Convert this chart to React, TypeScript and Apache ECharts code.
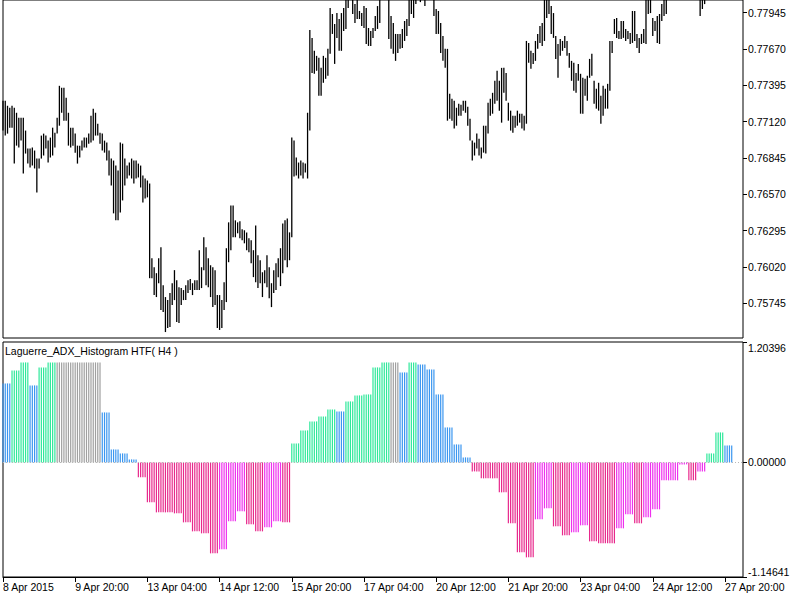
import React, { useEffect, useRef } from "react";
import * as echarts from "echarts";

// ---- x-axis tick labels (one every 32 H1 bars) ----
const tickLabels = [
  "8 Apr 2015", "9 Apr 20:00", "13 Apr 04:00", "14 Apr 12:00", "15 Apr 20:00",
  "17 Apr 04:00", "20 Apr 12:00", "21 Apr 20:00", "23 Apr 04:00", "24 Apr 12:00", "27 Apr 20:00",
];
const BARS_PER_LABEL = 32;
const SLOT_COUNT = 329;

// ---- price axis ----
const priceTicks = [0.75745, 0.7602, 0.76295, 0.7657, 0.76845, 0.7712, 0.77395, 0.7767, 0.77945];
const priceMin = 0.75481;
const priceMax = 0.78041;

// ---- indicator axis ----
const histTicks = [-1.14641, 0, 1.20396];
const histMin = -1.14641;
const histMax = 1.20396;

// ---- H1 price bars (high / low) ----
const highs = [
  0.77278, 0.77278, 0.7724, 0.77225, 0.7724, 0.77225, 0.77187, 0.7715, 0.7715, 0.7715,
  0.77052, 0.76916, 0.76916, 0.76923, 0.76901, 0.7684, 0.7684, 0.77014, 0.77029, 0.77014,
  0.76976, 0.76999, 0.77074, 0.77036, 0.7715, 0.77391, 0.77376, 0.77376, 0.77301, 0.77187,
  0.77074, 0.77074, 0.77029, 0.76938, 0.76938, 0.76976, 0.76999, 0.76999, 0.77029, 0.77165,
  0.77218, 0.77187, 0.77104, 0.77036, 0.77029, 0.76976, 0.76961, 0.76901, 0.7684, 0.76825,
  0.76787, 0.7675, 0.76961, 0.76953, 0.7684, 0.76787, 0.7681, 0.7684, 0.76825, 0.76825,
  0.76802, 0.76787, 0.76712, 0.76689, 0.76674, 0.76651, 0.76085, 0.76017, 0.75972, 0.76085,
  0.76168, 0.75881, 0.75791, 0.75768, 0.75821, 0.75896, 0.75995, 0.75919, 0.75866, 0.75859,
  0.75844, 0.75881, 0.75919, 0.75927, 0.75896, 0.75919, 0.75919, 0.76146, 0.76017, 0.76244,
  0.76168, 0.76085, 0.76032, 0.76017, 0.75995, 0.75806, 0.75806, 0.75768, 0.75904, 0.76161,
  0.76357, 0.76485, 0.76485, 0.76372, 0.76357, 0.76365, 0.76304, 0.76297, 0.76281, 0.76236,
  0.76221, 0.76146, 0.76334, 0.76108, 0.7607, 0.75979, 0.75995, 0.76108, 0.76017, 0.75896,
  0.75995, 0.76047, 0.76085, 0.76161, 0.76349, 0.76372, 0.76387, 0.76281, 0.76999, 0.76976,
  0.76848, 0.7681, 0.76825, 0.7681, 0.76802, 0.77187, 0.77814, 0.77754, 0.77656, 0.77618,
  0.77603, 0.77527, 0.77618, 0.77603, 0.77671, 0.7798, 0.77935, 0.77859, 0.77942, 0.77897,
  0.77942, 0.7798, 0.78056, 0.78109, 0.78146, 0.78071, 0.7801, 0.78056, 0.77958, 0.77942,
  0.77995, 0.7798, 0.77829, 0.77807, 0.77829, 0.7792, 0.77995, 0.78048, 0.78146, 0.78184,
  0.78146, 0.78056, 0.7792, 0.77867, 0.77784, 0.77784, 0.77784, 0.77822, 0.77882, 0.77897,
  0.78056, 0.78048, 0.78071, 0.78109, 0.78146, 0.78109, 0.78146, 0.78093, 0.78184, 0.78184,
  0.78146, 0.78071, 0.77973, 0.77958, 0.77867, 0.77769, 0.77671, 0.77671, 0.77331, 0.77293,
  0.77278, 0.77225, 0.77255, 0.77248, 0.77278, 0.77278, 0.77233, 0.77142, 0.76976, 0.76961,
  0.77029, 0.76991, 0.76923, 0.77089, 0.77089, 0.77263, 0.77293, 0.77338, 0.77429, 0.77505,
  0.77429, 0.77527, 0.77527, 0.77489, 0.77263, 0.77203, 0.77165, 0.77165, 0.77203, 0.7718,
  0.7718, 0.77165, 0.77731, 0.77716, 0.77656, 0.7764, 0.77731, 0.77784, 0.77844, 0.77867,
  0.78056, 0.78071, 0.78056, 0.77995, 0.77942, 0.77769, 0.77708, 0.77746, 0.77731, 0.77769,
  0.77731, 0.7764, 0.7758, 0.77565, 0.77489, 0.77557, 0.77482, 0.77452, 0.77444, 0.77467,
  0.77595, 0.77633, 0.77429, 0.77369, 0.77414, 0.77316, 0.77391, 0.77369, 0.77406, 0.77731,
  0.77731, 0.77897, 0.77905, 0.77807, 0.77882, 0.77882, 0.77822, 0.77807, 0.77791, 0.77958,
  0.77958, 0.77784, 0.77754, 0.77784, 0.77822, 0.78056, 0.78071, 0.78071, 0.77905, 0.77882,
  0.7792, 0.77935, 0.7801, 0.78056, 0.78071, 0.78184, 0.78222, 0.7826, 0.78297, 0.7832,
  0.78305, 0.78335, 0.7832, 0.78275, 0.78244, 0.78222, 0.78199, 0.78169, 0.78146, 0.78109,
  0.78109, 0.78109, 0.78184, 0.78244, 0.78297, 0.7835, 0.78411, 0.78448, 0.78486, 0.78471,
  0.78501, 0.78524, 0.78486, 0.78531,
];
const lows = [
  0.77052, 0.77014, 0.77029, 0.77074, 0.77074, 0.76802, 0.76938, 0.76923, 0.76976, 0.76727,
  0.76878, 0.76802, 0.76772, 0.76787, 0.76765, 0.76583, 0.76765, 0.7684, 0.76863, 0.76916,
  0.7681, 0.76848, 0.76863, 0.76923, 0.77029, 0.77089, 0.77187, 0.77127, 0.77127, 0.76938,
  0.76923, 0.76938, 0.76885, 0.76802, 0.76848, 0.76901, 0.76923, 0.76923, 0.76953, 0.76961,
  0.76976, 0.77014, 0.77014, 0.76953, 0.76901, 0.76885, 0.76825, 0.76712, 0.76636, 0.76425,
  0.76372, 0.76372, 0.76432, 0.76523, 0.76636, 0.76689, 0.76712, 0.76689, 0.76651, 0.76689,
  0.76697, 0.76621, 0.76508, 0.76538, 0.76546, 0.75934, 0.75934, 0.75806, 0.75791, 0.75896,
  0.75693, 0.75677, 0.75526, 0.75557, 0.75564, 0.7573, 0.75768, 0.75602, 0.75594, 0.7573,
  0.75768, 0.75768, 0.75821, 0.75844, 0.75806, 0.75844, 0.75844, 0.75844, 0.75859, 0.75995,
  0.75881, 0.75866, 0.75791, 0.75715, 0.7573, 0.75557, 0.75542, 0.75557, 0.75693, 0.75753,
  0.76055, 0.76146, 0.76244, 0.76244, 0.76274, 0.76236, 0.76221, 0.76198, 0.76146, 0.76131,
  0.76047, 0.75942, 0.75904, 0.75859, 0.75896, 0.75791, 0.75896, 0.75866, 0.75783, 0.75715,
  0.75821, 0.75844, 0.75942, 0.75874, 0.75972, 0.7607, 0.76017, 0.7607, 0.76244, 0.76704,
  0.76712, 0.76689, 0.76712, 0.76689, 0.76734, 0.76689, 0.77052, 0.77489, 0.77482, 0.77505,
  0.77316, 0.77316, 0.77414, 0.77444, 0.77467, 0.77633, 0.77784, 0.77557, 0.77754, 0.77656,
  0.77656, 0.77807, 0.77822, 0.7798, 0.78048, 0.77935, 0.77867, 0.77897, 0.77897, 0.77844,
  0.77829, 0.77708, 0.77693, 0.77693, 0.77754, 0.77807, 0.77822, 0.77867, 0.78041, 0.78071,
  0.78048, 0.77746, 0.77671, 0.77633, 0.7758, 0.7764, 0.77671, 0.77678, 0.77731, 0.77769,
  0.77844, 0.77935, 0.77905, 0.7801, 0.78056, 0.78025, 0.78071, 0.77995, 0.78071, 0.78071,
  0.78056, 0.7792, 0.77784, 0.77784, 0.7764, 0.7758, 0.77527, 0.77127, 0.77142, 0.77127,
  0.77067, 0.77089, 0.77165, 0.77165, 0.77203, 0.77187, 0.77089, 0.76976, 0.76825, 0.76863,
  0.76916, 0.76863, 0.7684, 0.76885, 0.76878, 0.77029, 0.77165, 0.7718, 0.77255, 0.77278,
  0.77203, 0.77112, 0.77338, 0.77278, 0.77127, 0.77052, 0.77036, 0.77074, 0.77089, 0.77112,
  0.77067, 0.77052, 0.77104, 0.77565, 0.7752, 0.77557, 0.7758, 0.77671, 0.77716, 0.77693,
  0.77731, 0.77905, 0.77935, 0.77784, 0.77754, 0.77595, 0.77452, 0.77618, 0.77656, 0.77678,
  0.77618, 0.77527, 0.77429, 0.77354, 0.77338, 0.77429, 0.7718, 0.7718, 0.77316, 0.77278,
  0.77452, 0.77467, 0.77255, 0.77218, 0.77203, 0.77104, 0.77165, 0.77218, 0.77218, 0.77354,
  0.7764, 0.77784, 0.77754, 0.77746, 0.77746, 0.77754, 0.77731, 0.77746, 0.77708, 0.77716,
  0.77731, 0.77678, 0.7764, 0.77708, 0.77716, 0.77708, 0.77935, 0.77942, 0.77769, 0.77807,
  0.77716, 0.77708, 0.77882, 0.7792, 0.77935, 0.78078, 0.78109, 0.78124, 0.78169, 0.78199,
  0.78184, 0.78222, 0.78199, 0.78169, 0.78139, 0.78109, 0.78093, 0.78071, 0.78056, 0.7792,
  0.77973, 0.7801, 0.78063, 0.78109, 0.78146, 0.78199, 0.7826, 0.78297, 0.78335, 0.7832,
  0.7835, 0.78373, 0.78335, 0.7838,
];

// ---- Laguerre ADX histogram, one value per H4 bar ----
const adxH4 = [
  0.79, 0.92, 1.0, 0.77, 0.95, 1.0, 1.0, 1.0, 1.0, 1.0, 1.0,
  0.5, 0.13, 0.09, 0.03,
  -0.15, -0.4, -0.5, -0.5, -0.51, -0.6, -0.69, -0.71, -0.91, -0.87, -0.59, -0.49, -0.62, -0.69, -0.65, -0.59, -0.6,
  0.19, 0.32, 0.41, 0.46, 0.53, 0.51, 0.61, 0.67, 0.68, 0.95, 1.0, 1.0,
  0.9, 1.0, 0.98, 0.93, 0.68, 0.35, 0.18, 0.05,
  -0.09, -0.16, -0.16, -0.3, -0.61, -0.9, -0.95, -0.57, -0.46, -0.64, -0.73, -0.7, -0.63, -0.79, -0.81, -0.81,
  -0.66, -0.52, -0.61, -0.55, -0.47, -0.18, -0.18, -0.02, -0.18, -0.09,
  0.09, 0.3, 0.17,
];
// state per H4 bar: g = rising, b = falling, x = flat, p = falling deeper, m = recovering
const adxState = (
  "bggbggxxxxx" + "bbbb" + "ppppppppp" + "mmm" + "pp" + "mm" + "p" +
  "ggggg" + "b" + "ggggg" + "x" + "b" + "g" + "bbbbbb" +
  "ppppppp" + "mm" + "pp" + "mm" + "ppp" + "mm" + "p" + "mmmmm" + "p" + "m" + "gg" + "b"
).split("");
const H1_PER_H4 = 4;

const FONT = "'Liberation Sans', Arial, sans-serif";
const stateColor: Record<string, string> = {
  g: "#2ee89a",
  b: "#3a96f0",
  x: "#a0a0a0",
  p: "#e8288c",
  m: "#ee30ee",
};

export default function App() {
  const ref = useRef<HTMLDivElement>(null);

  useEffect(() => {
    if (!ref.current) return;
    const chart = echarts.init(ref.current, null, { renderer: "svg" });

    const categories = Array.from({ length: SLOT_COUNT }, (_, i) => String(i));
    const priceData = highs.map((h, i) => [i, lows[i], h]);
    const histData: any[] = [];
    adxH4.forEach((v, k) => {
      for (let j = 0; j < H1_PER_H4; j++) {
        histData.push({ value: v, itemStyle: { color: stateColor[adxState[k]] } });
      }
    });

    const isLabelSlot = (i: number) => i % BARS_PER_LABEL === 0 && i / BARS_PER_LABEL < tickLabels.length;

    const option: any = {
      animation: false,
      backgroundColor: "#ffffff",
      textStyle: { fontFamily: FONT },
      grid: [
        { left: 3, top: -1, width: 740, height: 339, show: true, borderColor: "#000", borderWidth: 1, backgroundColor: "transparent" },
        { left: 3, top: 342, width: 740, height: 235, show: true, borderColor: "#000", borderWidth: 1, backgroundColor: "transparent" },
      ],
      xAxis: [
        {
          type: "category", gridIndex: 0, data: categories, boundaryGap: false,
          axisLine: { show: false }, axisTick: { show: false }, axisLabel: { show: false }, splitLine: { show: false },
        },
        {
          type: "category", gridIndex: 1, data: categories, boundaryGap: false, position: "bottom",
          axisLine: { show: true, onZero: false, lineStyle: { color: "#000", width: 1 } },
          axisTick: { show: true, interval: (i: number) => isLabelSlot(i), length: 5, lineStyle: { color: "#000" } },
          axisLabel: {
            interval: (i: number) => isLabelSlot(i),
            formatter: (_v: string, i: number) => tickLabels[i / BARS_PER_LABEL] ?? "",
            align: "left", margin: 4, color: "#000", fontSize: 10.5, fontFamily: FONT,
          },
          splitLine: { show: false },
        },
      ],
      yAxis: [
        {
          type: "value", gridIndex: 0, position: "right", min: priceMin, max: priceMax, scale: true,
          axisLine: { show: false }, splitLine: { show: false },
          axisTick: { show: true, length: 4, customValues: priceTicks, lineStyle: { color: "#000" } },
          axisLabel: {
            customValues: priceTicks, formatter: (v: number) => v.toFixed(5),
            margin: 5, color: "#000", fontSize: 10.5, fontFamily: FONT,
          },
        },
        {
          type: "value", gridIndex: 1, position: "right", min: histMin, max: histMax,
          axisLine: { show: false }, splitLine: { show: false },
          axisTick: { show: true, length: 4, customValues: histTicks, lineStyle: { color: "#000" } },
          axisLabel: {
            customValues: histTicks,
            formatter: (v: number) => {
              const s = v.toFixed(5);
              if (v >= histMax - 1e-9) return "{t|" + s + "}";
              if (v <= histMin + 1e-9) return "{b|" + s + "}";
              return "{z|" + s + "}";
            },
            margin: 5, color: "#000", fontSize: 10.5, fontFamily: FONT,
            rich: {
              t: { padding: [11, 0, 0, 0], fontSize: 10.5, color: "#000", fontFamily: FONT },
              b: { padding: [0, 0, 11, 0], fontSize: 10.5, color: "#000", fontFamily: FONT },
              z: { fontSize: 10.5, color: "#000", fontFamily: FONT },
            },
          },
        },
      ],
      graphic: [
        {
          type: "text", left: 5, top: 345,
          style: { text: "Laguerre_ADX_Histogram HTF( H4 )", fill: "#000", fontSize: 10.5, fontFamily: FONT },
        },
      ],
      series: [
        {
          type: "custom", xAxisIndex: 0, yAxisIndex: 0, data: priceData,
          encode: { x: 0, y: [1, 2] },
          renderItem: (params: any, api: any) => {
            const i = api.value(0);
            const lo = api.coord([i, api.value(1)]);
            const hi = api.coord([i, api.value(2)]);
            const cs = params.coordSys;
            const y1 = Math.max(cs.y, hi[1]);
            const y2 = Math.min(cs.y + cs.height, lo[1]);
            if (y2 <= y1) return { type: "group", children: [] };
            return {
              type: "line",
              shape: { x1: lo[0], y1, x2: lo[0], y2 },
              style: { stroke: "#000", lineWidth: 1.3 },
            };
          },
        },
        {
          type: "bar", xAxisIndex: 1, yAxisIndex: 1, data: histData, barWidth: 1.2,
          markLine: {
            silent: true, symbol: "none", label: { show: false },
            lineStyle: { color: "#b8b8b8", type: [1, 2], width: 1 },
            data: [{ yAxis: 0 }],
          },
        },
      ],
    };

    chart.setOption(option);
    return () => chart.dispose();
  }, []);

  return (
    <div
      ref={ref}
      style={{ position: "fixed", left: 0, top: 0, width: 800, height: 600, background: "#fff" }}
    />
  );
}
